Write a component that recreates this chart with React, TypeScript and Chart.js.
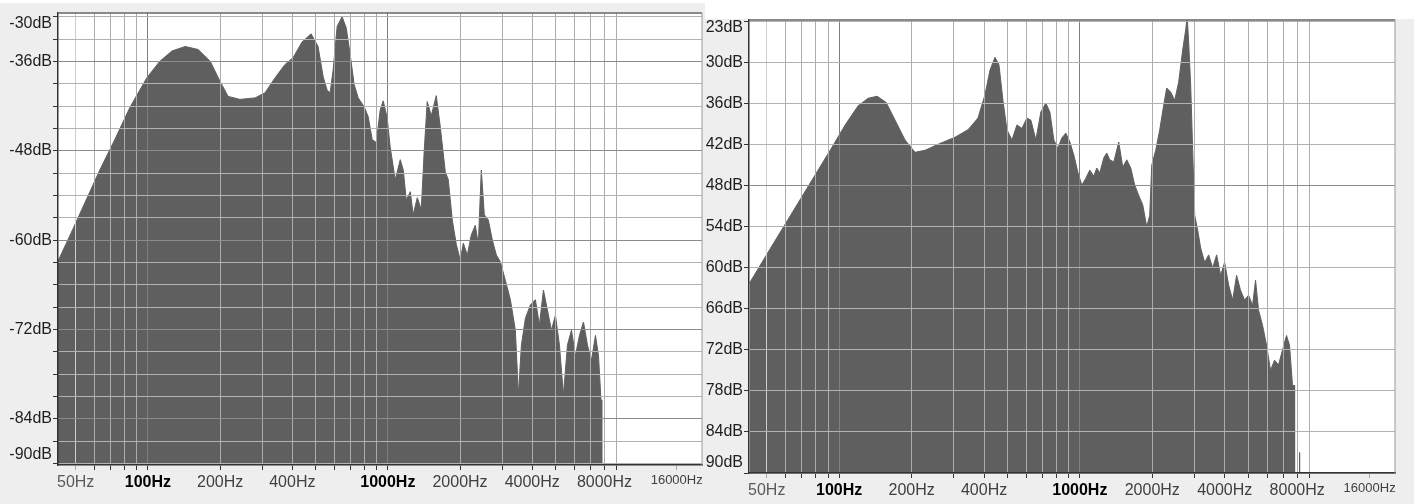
import React, { useEffect, useRef } from "react";
import { Chart, registerables } from "chart.js";

Chart.register(...registerables);

// ---------- data ----------
const leftFreqs = [
  42.1, 47.3, 54.6, 63.0, 72.8, 84.1, 99.0, 112, 126, 143, 162, 182, 200, 216, 242, 280, 308, 339, 373, 403,
  439, 479, 512, 538, 559, 575, 592, 615, 645, 671, 697, 724, 753, 797, 828, 861, 895, 930, 957, 994,
  1023, 1074, 1127, 1160, 1194, 1241, 1276, 1327, 1379, 1419, 1460, 1518, 1592, 1655, 1736, 1787, 1857, 1930, 2005, 2064,
  2145, 2229, 2316, 2384, 2453, 2525, 2624, 2727, 2834, 2945, 3090, 3243, 3402, 3502, 3605, 3746, 3930, 4123, 4285, 4453,
  4628, 4808, 4997, 5193, 5396, 5608, 5827, 6055, 6293, 6539, 6796, 7062, 7339, 7553, 7738, 7812, 7815,
];
const leftDb = [
  -62.9, -59.4, -55.0, -50.6, -46.5, -42.2, -38.2, -36.0, -34.6, -34.0, -34.4, -36.0, -38.7, -40.7, -41.1, -40.9, -40.2, -38.2, -36.4, -35.5,
  -33.4, -32.3, -34.0, -38.1, -39.9, -40.2, -37.1, -31.3, -30.0, -31.5, -35.1, -39.1, -40.9, -42.1, -43.4, -46.5, -46.9, -42.5, -41.3, -43.6,
  -47.5, -51.9, -49.2, -50.6, -54.6, -53.5, -56.6, -54.3, -55.9, -47.9, -41.4, -43.3, -40.6, -44.8, -50.8, -51.9, -57.3, -60.6, -62.7, -60.4,
  -62.0, -59.3, -58.0, -60.6, -50.6, -56.6, -57.3, -60.0, -62.0, -62.9, -65.4, -68.0, -72.1, -80.8, -74.1, -70.5, -68.7, -68.0, -71.4, -66.7,
  -69.4, -72.1, -70.1, -74.1, -80.8, -74.1, -72.1, -75.5, -72.8, -71.0, -74.1, -76.1, -72.8, -75.5, -81.5, -81.5, -100,
];

const rightFreqs = [
  42.45, 51.7, 62.6, 75.8, 91.8, 105.9, 119.9, 131.9, 143.8, 156.7, 170.8, 187.8, 206.7, 227.5, 262.5, 302.9, 343, 377.4, 403.5, 423.3,
  444, 461.2, 479.2, 497.9, 522.2, 547.8, 574.6, 602.7, 626.2, 656.8, 688.9, 722.5, 750.7, 779.9, 810.3, 841.9, 874.7, 908.8, 944.2, 981.1,
  1019, 1059, 1100, 1143, 1176, 1211, 1258, 1294, 1332, 1384, 1451, 1508, 1567, 1628, 1691, 1757, 1826, 1897, 1952, 1990,
  2067, 2148, 2231, 2296, 2386, 2479, 2576, 2676, 2754, 2793, 2834, 2888, 2944, 3001, 3088, 3178, 3302, 3430, 3564, 3703,
  3847, 3997, 4152, 4314, 4482, 4656, 4837, 5025, 5221, 5373, 5529, 5744, 5968, 6201, 6442, 6693, 6954, 7225, 7436, 7652,
  7800, 7805, 8170, 8183, 8196,
];
const rightDb = [
  -62.2, -57.2, -52.4, -47.6, -42.8, -39.1, -36.3, -35.2, -34.9, -35.8, -38.4, -41.3, -43.1, -42.8, -41.8, -40.9, -39.8, -38.1, -34.7, -31.1,
  -29.2, -30.3, -35.5, -39.8, -41.3, -39.1, -39.6, -38.1, -38.4, -41.3, -37.2, -35.9, -37.2, -41.3, -42.5, -41.0, -40.3, -41.6, -43.5, -46.0,
  -47.9, -46.9, -45.7, -46.6, -45.4, -46.1, -43.9, -43.2, -44.2, -44.5, -41.6, -45.3, -44.2, -45.4, -47.9, -49.4, -50.8, -54.0, -52.3, -45.0,
  -42.8, -39.8, -36.2, -33.7, -34.3, -35.5, -32.8, -28.1, -25.2, -23.2, -27.1, -33.3, -42.8, -52.3, -54.5, -57.1, -59.2, -58.1, -60.0, -58.1,
  -61.1, -59.2, -62.5, -64.7, -61.1, -63.3, -64.7, -64.0, -65.5, -61.8, -66.2, -68.4, -71.3, -75.0, -73.5, -74.2, -72.0, -69.9, -71.3, -77.2,
  -77.2, -100, -100, -87.0, -100,
];

const gridFreqs = [50, 60, 70, 80, 90, 100, 200, 300, 400, 500, 600, 700, 800, 900, 1000, 2000, 3000, 4000, 5000, 6000, 7000, 8000, 9000];
const labelFreqs = [50, 100, 200, 400, 1000, 2000, 4000, 8000, 16000];
const boldFreqs = [100, 1000];

const leftGridDb = [-90, -87, -84, -81, -78, -75, -72, -69, -66, -63, -60, -57, -54, -51, -48, -45, -42, -39, -36, -33, -30];
const leftLabelDb = [-30, -36, -48, -60, -72, -84, -90];
const leftDarkDb = [-36, -48, -60, -72, -84];

const rightGridDb = [-90, -84, -78, -72, -66, -60, -54, -48, -42, -36, -30, -24];
const rightLabelDb = [-23, -30, -36, -42, -48, -54, -60, -66, -72, -78, -84, -90];
const rightDarkDb = [-48];

const FMIN = 42.2;
const FMAX = 20400;
const FILL = "#5f5f5f";
const FONT = '"Liberation Sans", Arial, sans-serif';

type PanelProps = {
  freqs: number[];
  db: number[];
  yMin: number;
  yMax: number;
  yGrid: number[];
  yLabels: number[];
  yDark: number[];
  width: number;
  left: number;
  yAxisWidth: number;
  xAxisHeight: number;
  padTop: number;
  padRight: number;
  labelTopInset: number;
  labelBottomInset: number;
  whiteTop: number;
};

function Panel(p: PanelProps) {
  const ref = useRef<HTMLCanvasElement | null>(null);

  useEffect(() => {
    if (!ref.current) return;

    const bgPlugin = {
      id: "bg",
      beforeDraw(chart: any) {
        const { ctx, chartArea, width, height } = chart;
        ctx.save();
        ctx.fillStyle = "#ffffff";
        ctx.fillRect(0, 0, width, height);
        ctx.fillStyle = "#eeeeee";
        ctx.fillRect(0, p.whiteTop, width, height - p.whiteTop);
        ctx.fillStyle = "#ffffff";
        ctx.fillRect(chartArea.left, chartArea.top, chartArea.right - chartArea.left, chartArea.bottom - chartArea.top);
        ctx.restore();
      },
    };

    const framePlugin = {
      id: "frame",
      afterDraw(chart: any) {
        const { ctx, chartArea, scales } = chart;
        ctx.save();
        ctx.lineWidth = 1.5;
        ctx.strokeStyle = "#666666";
        ctx.beginPath();
        ctx.moveTo(chartArea.left, chartArea.top);
        ctx.lineTo(chartArea.right, chartArea.top);
        ctx.stroke();
        ctx.lineWidth = 1;
        ctx.strokeStyle = "#9a9a9a";
        ctx.beginPath();
        ctx.moveTo(chartArea.right, chartArea.top);
        ctx.lineTo(chartArea.right, chartArea.bottom);
        ctx.stroke();
        // y labels, clamped inside the axis span
        const y = scales.y;
        ctx.font = `16px ${FONT}`;
        ctx.fillStyle = "#1e1e1e";
        ctx.textAlign = "right";
        ctx.textBaseline = "middle";
        for (const v of p.yLabels) {
          let py = y.getPixelForValue(v);
          py = Math.min(Math.max(py, chartArea.top + p.labelTopInset), chartArea.bottom - p.labelBottomInset);
          ctx.fillText(`${v}dB`, chartArea.left - 6, py);
        }
        ctx.restore();
      },
    };

    const chart = new Chart(ref.current, {
      type: "line",
      data: {
        datasets: [
          {
            data: p.freqs.map((f, i) => ({ x: f, y: p.db[i] })),
            fill: "start",
            backgroundColor: FILL,
            borderColor: FILL,
            borderWidth: 1,
            pointRadius: 0,
            tension: 0,
          },
        ],
      },
      options: {
        animation: false,
        responsive: false,
        events: [],
        layout: { padding: { left: 0, top: p.padTop, right: p.padRight, bottom: 0 } },
        plugins: { legend: { display: false }, tooltip: { enabled: false } },
        scales: {
          x: {
            type: "logarithmic",
            min: FMIN,
            max: FMAX,
            afterBuildTicks: (s: any) => {
              s.ticks = [...gridFreqs, 16000].map((v) => ({ value: v }));
            },
            afterFit: (s: any) => {
              s.height = p.xAxisHeight;
              s.paddingLeft = 0;
              s.paddingRight = 0;
            },
            grid: {
              z: 1,
              lineWidth: 1,
              tickLength: 5,
              color: (c: any) => {
                const v = c.tick?.value;
                if (v === 16000) return "rgba(0,0,0,0)";
                if (v === 50) return "#cfcfcf";
                if (boldFreqs.includes(v)) return "#808080";
                return "#acacac";
              },
              tickColor: (c: any) => (c.tick?.value === 16000 || c.tick?.value === 50 ? "#aaaaaa" : "#333333"),
            },
            border: { z: 2, color: "#333333", width: 1.5 },
            ticks: {
              z: 2,
              autoSkip: false,
              maxRotation: 0,
              minRotation: 0,
              padding: 3,
              callback: (v: any) => (labelFreqs.includes(Number(v)) ? `${v}Hz` : ""),
              font: (c: any) => {
                const v = c.tick?.value;
                if (boldFreqs.includes(v)) return { family: FONT, size: 16, weight: "bold" };
                if (v === 16000) return { family: FONT, size: 13 };
                return { family: FONT, size: 16 };
              },
              color: (c: any) => {
                const v = c.tick?.value;
                if (boldFreqs.includes(v)) return "#000000";
                if (v === 50) return "#5a5a5a";
                return "#404040";
              },
            },
          },
          y: {
            type: "linear",
            min: p.yMin,
            max: p.yMax,
            afterBuildTicks: (s: any) => {
              s.ticks = p.yGrid.map((v) => ({ value: v }));
            },
            afterFit: (s: any) => {
              s.width = p.yAxisWidth;
            },
            grid: {
              z: 1,
              lineWidth: 1,
              tickLength: 5,
              color: (c: any) => (p.yDark.includes(c.tick?.value) ? "#8c8c8c" : "#b2b2b2"),
              tickColor: "#333333",
            },
            border: { z: 2, color: "#333333", width: 1.5 },
            ticks: { display: false },
          },
        },
      },
      plugins: [bgPlugin, framePlugin],
    } as any);

    return () => chart.destroy();
  }, []);

  return (
    <canvas
      ref={ref}
      width={p.width}
      height={504}
      style={{ position: "absolute", left: p.left, top: 0, width: p.width, height: 504 }}
    />
  );
}

export default function App() {
  return (
    <div style={{ position: "fixed", left: 0, top: 0, width: 1414, height: 504, background: "#ffffff", overflow: "hidden" }}>
      <Panel
        freqs={leftFreqs}
        db={leftDb}
        yMin={-90.2}
        yMax={-29.5}
        yGrid={leftGridDb}
        yLabels={leftLabelDb}
        yDark={leftDarkDb}
        width={705}
        left={0}
        yAxisWidth={58}
        xAxisHeight={39}
        padTop={13}
        padRight={3}
        labelTopInset={10.5}
        labelBottomInset={10}
        whiteTop={3}
      />
      <Panel
        freqs={rightFreqs}
        db={rightDb}
        yMin={-90}
        yMax={-23.75}
        yGrid={rightGridDb}
        yLabels={rightLabelDb}
        yDark={rightDarkDb}
        width={709}
        left={705}
        yAxisWidth={44}
        xAxisHeight={31}
        padTop={20}
        padRight={19}
        labelTopInset={7.5}
        labelBottomInset={10}
        whiteTop={19}
      />
    </div>
  );
}
